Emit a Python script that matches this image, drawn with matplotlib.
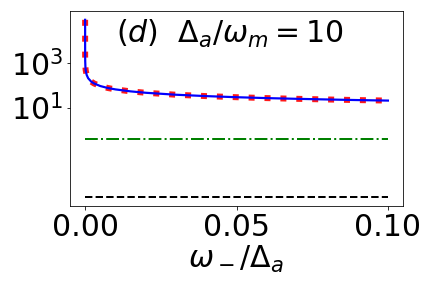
import matplotlib
matplotlib.use("Agg")
import matplotlib.pyplot as plt
from matplotlib.ticker import NullLocator

# data
x_curve = [6e-9, 1e-8, 3e-8, 1e-7, 3e-7, 1e-6, 3e-6, 1e-5, 3e-5, 1e-4, 2e-4, 5e-4,
           1e-3, 2e-3, 3e-3, 5e-3, 0.0075, 0.01, 0.015, 0.02, 0.03, 0.04, 0.05,
           0.06, 0.07, 0.08, 0.09, 0.1]
y_exact = [85000, 65500, 37800, 20700, 11960, 6550, 3780, 2070, 1196, 655, 463, 293,
           207, 146, 120, 92.6, 75.6, 65.5, 53.5, 46.3, 37.8, 32.8, 29.3,
           26.7, 24.8, 23.2, 21.8, 20.7]
y_approx = y_exact
x_flat = [0.0, 0.1]
y_green = [0.4, 0.4]
y_black = [1e-3, 1e-3]
xticks = [0.00, 0.05, 0.10]
xtick_labels = ["0.00", "0.05", "0.10"]
yticks = [10, 1000]
ytick_labels = [r"$10^1$", r"$10^3$"]

fig = plt.figure(figsize=(6, 4), dpi=72)
ax = fig.add_axes([0.162, 0.285, 0.771, 0.677])

ax.plot(x_curve, y_approx, color="red", ls=":", lw=6, alpha=0.9, zorder=3)
ax.plot(x_curve, y_exact, color="blue", lw=2.2, zorder=4)
ax.plot(x_flat, y_green, color="green", ls="-.", lw=2)
ax.plot(x_flat, y_black, color="black", ls="--", lw=2)

ax.set_yscale("log")
ax.set_yticks(yticks)
ax.set_yticklabels(ytick_labels)
ax.yaxis.set_minor_locator(NullLocator())
ax.set_xticks(xticks)
ax.set_xticklabels(xtick_labels)
ax.tick_params(labelsize=30)
ax.set_xlabel(r"$\omega_-/\Delta_a$", fontsize=30, labelpad=2)

ax.text(0.479, 0.965, r"$(d)$  $\Delta_a/\omega_m=10$", transform=ax.transAxes,
        ha="center", va="top", fontsize=30)

fig.savefig("out.png", dpi=72)
